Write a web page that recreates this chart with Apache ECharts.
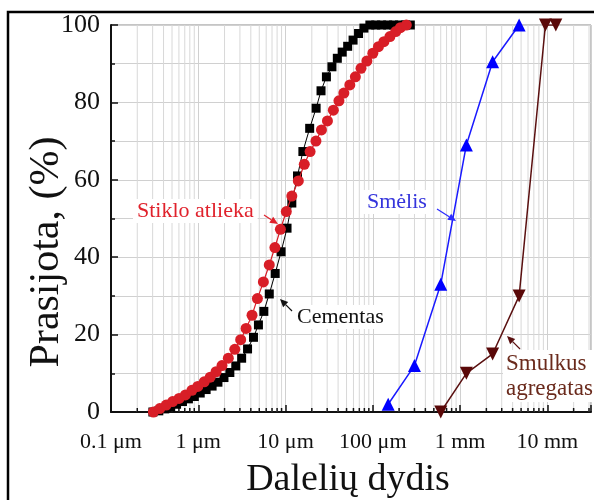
<!DOCTYPE html>
<html>
<head>
<meta charset="utf-8">
<script src="https://cdn.jsdelivr.net/npm/echarts@6/dist/echarts.min.js"></script>
<style>html,body{margin:0;padding:0;background:#fff;}#c{width:594px;height:500px;}</style>
</head>
<body>
<div id="c"></div>
<script>
// ---- Data (particle size in µm, passing in %) ----
const cementSize = [0.302,0.353,0.413,0.483,0.564,0.659,0.771,0.901,1.053,1.23,1.44,1.68,1.97,2.30,2.69,3.14,3.67,4.29,4.89,5.64,6.51,7.61,8.89,10.4,11.8,13.7,15.8,18.9,22.4,25.5,29.4,34.0,39.2,44.6,51.5,59.4,68.6,79.1,92.5,108,126,148,173,202,236,269];
const cementPass = [0,0.3,0.8,1.3,2.0,2.7,3.4,4.0,4.9,5.8,6.7,7.7,8.9,10.2,11.9,13.9,16.3,19.3,22.5,26.0,30.5,35.8,41.4,47.5,54.0,61.0,67.3,73.3,78.5,83.0,86.6,89.2,91.4,93.0,94.5,96.1,97.8,99.2,100,100,100,100,100,100,100,100];

const glassSize = [0.306,0.362,0.429,0.508,0.602,0.713,0.845,0.987,1.17,1.37,1.60,1.87,2.21,2.62,3.06,3.53,4.13,4.76,5.57,6.51,7.55,8.73,10.2,11.8,14.0,16.4,19.1,22.3,25.8,30.2,35.3,40.9,46.6,54.5,63.1,73.2,85.5,100,116,134,157,183,207,242];
const glassPass = [0,0.9,1.8,2.7,3.5,4.4,5.6,6.6,7.8,9.0,10.4,12.0,13.9,16.2,18.7,21.6,25.0,29.3,33.6,38.0,42.5,47.2,51.8,55.8,59.7,64.0,67.3,70.0,72.9,75.2,78.0,80.4,82.4,84.5,86.6,88.8,90.7,92.7,94.4,95.7,97.0,98.3,99.3,100];

const sandSize = [150,300,600,1180,2360,4750];
const sandPass = [2,12,33,69,90.5,100];

const fineAggSize = [600,1180,2360,4750,9500,12500];
const fineAggPass = [0,10,15,30,100,100];

const xTickValues = [0.1,1,10,100,1000,10000];
const xTickLabels = ['0.1 μm','1 μm','10 μm','100 μm','1 mm','10 mm'];
const yTickLabels = ['0','20','40','60','80','100'];
// minor log positions for vertical grid lines
const minorGridValues = [
  0.2,0.3,0.4,0.5,0.6,0.7,0.8,0.9,
  2,3,4,5,6,7,8,9,
  20,30,40,50,60,70,80,90,
  200,300,400,500,600,700,800,900,
  2000,3000,4000,5000,6000,7000,8000,9000,
  20000,30000
];

const zip = (a,b)=>a.map((v,i)=>[v,b[i]]);
const serif = 'Liberation Serif, Times New Roman, serif';

const chart = echarts.init(document.getElementById('c'), null, {renderer:'canvas'});

function arrow(x1,y1,x2,y2,color,head){
  const ang = Math.atan2(y2-y1,x2-x1);
  const h = head||7, w = h*0.45;
  const bx = x2 - h*Math.cos(ang), by = y2 - h*Math.sin(ang);
  const px = -Math.sin(ang)*w, py = Math.cos(ang)*w;
  return [
    {type:'line', shape:{x1:x1,y1:y1,x2:bx,y2:by}, style:{stroke:color,lineWidth:1.2}, z:50},
    {type:'polygon', shape:{points:[[x2,y2],[bx+px,by+py],[bx-px,by-py]]}, style:{fill:color}, z:50}
  ];
}

const option = {
  animation:false,
  backgroundColor:'#fff',
  grid:{left:111, top:25, width:486, height:387, show:true, borderColor:'#8a8a8a', borderWidth:1, backgroundColor:'transparent'},
  xAxis:{
    type:'log', logBase:10, min:0.1, max:31622.8,
    axisLine:{show:true, onZero:false, lineStyle:{color:'#111', width:2}},
    axisTick:{show:true, inside:true, length:7, lineStyle:{color:'#111', width:1.5}},
    splitLine:{show:true, lineStyle:{color:'#d0d0d0', width:1}},
    minorTick:{show:false}, minorSplitLine:{show:false},
    axisLabel:{
      margin:19, fontFamily:serif, fontSize:22, color:'#111',
      formatter:function(v){
        for(let i=0;i<xTickValues.length;i++){
          if(Math.abs(Math.log10(v)-Math.log10(xTickValues[i]))<1e-6) return xTickLabels[i];
        }
        return '';
      }
    }
  },
  yAxis:{
    type:'value', min:0, max:100, interval:20,
    axisLine:{show:true, lineStyle:{color:'#111', width:2}},
    axisTick:{show:true, inside:true, length:7, lineStyle:{color:'#111', width:1.5}},
    minorTick:{show:true, splitNumber:2, length:4, lineStyle:{color:'#111', width:1.5}},
    splitLine:{show:true, lineStyle:{color:'#d0d0d0', width:1}},
    minorSplitLine:{show:true, lineStyle:{color:'#d0d0d0', width:1}},
    axisLabel:{margin:11, fontFamily:serif, fontSize:26, color:'#111',
      formatter:function(v){ const i = Math.round(v/20); return yTickLabels[i]!==undefined && Math.abs(v-i*20)<1e-6 ? yTickLabels[i] : ''; }}
  },
  series:[
    {
      type:'custom', z:1, silent:true, clip:false,
      data: minorGridValues.map(v=>[v,0]),
      renderItem:function(params, api){
        const x = api.coord([api.value(0), 0])[0];
        const cs = params.coordSys;
        const bottom = cs.y + cs.height;
        return {type:'group', children:[
          {type:'line', shape:{x1:x,y1:cs.y,x2:x,y2:bottom}, style:{stroke:'#d8d8d8', lineWidth:1}},
          {type:'line', shape:{x1:x,y1:bottom-4,x2:x,y2:bottom}, style:{stroke:'#111', lineWidth:1.5}}
        ]};
      }
    },
    {
      name:'Cementas', type:'line', z:3, data:zip(cementSize,cementPass),
      symbol:'rect', symbolSize:9,
      lineStyle:{color:'#000', width:1}, itemStyle:{color:'#000'}
    },
    {
      name:'Stiklo atlieka', type:'line', z:4, data:zip(glassSize,glassPass),
      symbol:'circle', symbolSize:11,
      lineStyle:{color:'#d81e27', width:1.2}, itemStyle:{color:'#d81e27'}
    },
    {
      name:'Smėlis', type:'line', z:3, data:zip(sandSize,sandPass),
      symbol:'triangle', symbolSize:13,
      lineStyle:{color:'#1a1aff', width:1.5}, itemStyle:{color:'#0000ff'}
    },
    {
      name:'Smulkus agregatas', type:'line', z:3, data:zip(fineAggSize,fineAggPass),
      symbol:'triangle', symbolRotate:180, symbolSize:13,
      lineStyle:{color:'#5a1010', width:1.5}, itemStyle:{color:'#5a0808'}
    }
  ],
  graphic:[
    {type:'polyline', shape:{points:[[8,500],[8,12],[594,12]]}, style:{stroke:'#000', lineWidth:2.5, fill:null}, z:60},
    {type:'text', x:47, y:252, rotation:Math.PI/2, z:40, style:{text:'Prasijota, (%)', font:'42px '+serif, fill:'#111', align:'center', verticalAlign:'middle'}},
    {type:'text', x:348, y:480, z:40, style:{text:'Dalelių dydis', font:'38px '+serif, fill:'#111', align:'center', verticalAlign:'middle'}},
    {type:'text', left:133, top:199, z:40, style:{text:'Stiklo atlieka', font:'22px '+serif, fill:'#e0222c', backgroundColor:'#fff', padding:[1,4,1,4]}},
    ...arrow(264,215,278,224,'#e0222c',8),
    {type:'text', left:363, top:190, z:40, style:{text:'Smėlis', font:'22px '+serif, fill:'#3535dc', backgroundColor:'#fff', padding:[1,4,1,4]}},
    ...arrow(437,209,456,221,'#2a2aff',8),
    {type:'text', left:293, top:305, z:40, style:{text:'Cementas', font:'22px '+serif, fill:'#111', backgroundColor:'#fff', padding:[1,4,1,4]}},
    ...arrow(292,311,280,299,'#111',8),
    {type:'text', left:503, top:350, z:40, style:{text:'Smulkus\nagregatas', font:'23px '+serif, fill:'#6a2a1c', align:'center', lineHeight:25, backgroundColor:'#fff', padding:[1,3,1,3]}},
    ...arrow(520,349,507,336,'#5a1010',8)
  ]
};
chart.setOption(option);
</script>
</body>
</html>
